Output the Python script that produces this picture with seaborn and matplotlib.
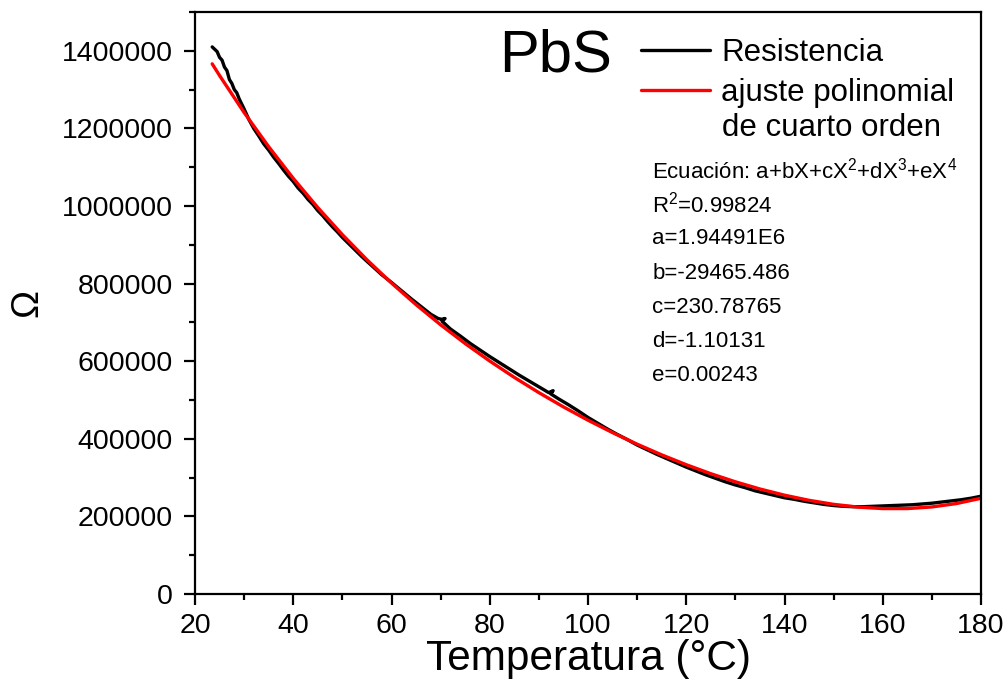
import matplotlib
matplotlib.use("Agg")
import matplotlib.pyplot as plt
import seaborn as sns
import pandas as pd
from matplotlib.ticker import MultipleLocator

# ---- data ----
temp_meas = [23.5, 24.0, 24.5, 25.0, 25.5, 26.0, 26.5, 27.0, 27.5, 28.0, 28.5, 29.0,
             30.0, 31.0, 32.0, 33.0, 34.0, 35.0, 36.0, 37.0, 38.0, 39.0, 40.0, 41.0,
             42.0, 43.0, 44.0, 45.0, 46.0, 47.0, 48.0, 49.0, 50.0, 52.0, 54.0, 56.0,
             58.0, 60.0, 62.0, 64.0, 66.0, 68.0, 69.5, 70.2, 70.9, 70.3, 72.0, 74.0,
             76.0, 78.0, 80.0, 82.0, 84.0, 86.0, 88.0, 90.0, 92.0, 92.9, 92.4, 94.0,
             96.0, 98.0, 100.0, 102.0, 104.0, 106.0, 108.0, 110.0, 112.0, 114.0, 116.0,
             118.0, 120.0, 122.0, 124.0, 126.0, 128.0, 130.0, 132.0, 134.0, 136.0,
             138.0, 140.0, 142.0, 144.0, 146.0, 148.0, 150.0, 152.0, 154.0, 156.0,
             158.0, 160.0, 162.0, 164.0, 166.0, 168.0, 170.0, 172.0, 174.0, 176.0,
             178.0, 180.0]
resistencia = [1410000, 1404000, 1398000, 1383000, 1376000, 1358000, 1349000, 1326000,
               1316000, 1300000, 1292000, 1276000, 1250000, 1222000, 1199000, 1180000,
               1160000, 1144000, 1126000, 1110000, 1093000, 1077000, 1063000, 1046000,
               1033000, 1017000, 1004000, 988000, 975000, 960000, 946000, 933000,
               919000, 894000, 869000, 846000, 823000, 803000, 782000, 761000, 741000,
               721000, 710000, 708000, 710000, 703000, 683000, 665000, 646000, 629000,
               612000, 596000, 580000, 564000, 549000, 534000, 519000, 524000, 516000,
               503000, 488000, 472000, 455000, 440000, 425000, 411000, 398000, 384000,
               372000, 360000, 349000, 338000, 327000, 317000, 307000, 298000, 289000,
               281000, 274000, 266000, 260000, 254000, 248000, 244000, 239000, 235000,
               231000, 228000, 226000, 225000, 225000, 226000, 227000, 228000, 229000,
               230000, 232000, 234000, 237000, 240000, 243000, 247000, 252000]

temp_fit = [23.5, 25, 30, 35, 40, 45, 50, 55, 60, 65, 70, 75, 80, 85, 90, 95, 100,
            105, 110, 115, 120, 125, 130, 135, 140, 145, 150, 155, 160, 165, 170,
            175, 180]
ajuste = [1366371, 1336256, 1240887, 1152761, 1071288, 995916, 926129, 861446,
          801427, 745661, 693781, 645451, 600374, 558291, 518973, 482237, 447928,
          415932, 386170, 358600, 333215, 310047, 289163, 270635, 254689, 241427,
          231076, 223890, 220155, 220195, 224364, 233125, 246720]

x_ticks = [20, 40, 60, 80, 100, 120, 140, 160, 180]
y_ticks = [0, 200000, 400000, 600000, 800000, 1000000, 1200000, 1400000]

fit_text = ["Ecuación: a+bX+cX$^2$+dX$^3$+eX$^4$", "R$^2$=0.99824", "a=1.94491E6",
            "b=-29465.486", "c=230.78765", "d=-1.10131", "e=0.00243"]

# ---- style ----
sns.set_theme(style="ticks")
plt.rcParams["font.family"] = ["Liberation Sans", "DejaVu Sans"]
plt.rcParams["mathtext.default"] = "regular"
plt.rcParams["axes.linewidth"] = 1.6
plt.rcParams["text.color"] = "black"
plt.rcParams["axes.labelcolor"] = "black"
plt.rcParams["xtick.color"] = "black"
plt.rcParams["ytick.color"] = "black"
plt.rcParams["axes.edgecolor"] = "black"

fig = plt.figure(figsize=(10.08, 6.98), dpi=100)
ax = fig.add_axes([195 / 1008, 1 - 594 / 698, 786 / 1008, 582 / 698])

df_meas = pd.DataFrame({"T": temp_meas, "R": resistencia})
df_fit = pd.DataFrame({"T": temp_fit, "R": ajuste})

sns.lineplot(data=df_meas, x="T", y="R", color="black", lw=2.4, sort=False,
             estimator=None, ax=ax, label="Resistencia")
sns.lineplot(data=df_fit, x="T", y="R", color="#ff0000", lw=2.4, sort=False,
             estimator=None, ax=ax, label="ajuste polinomial")

ax.set_xlim(20, 180)
ax.set_ylim(0, 1500000)
ax.set_xticks(x_ticks)
ax.set_yticks(y_ticks)
ax.set_xticklabels([str(v) for v in x_ticks])
ax.set_yticklabels([str(v) for v in y_ticks])
ax.xaxis.set_minor_locator(MultipleLocator(10))
ax.yaxis.set_minor_locator(MultipleLocator(100000))
ax.tick_params(which="major", direction="out", length=8, width=1.6,
               labelsize=20.5, pad=6, colors="black")
ax.tick_params(which="minor", direction="out", length=4, width=1.6)
ax.tick_params(axis="y", which="major", pad=8)
for s in ax.spines.values():
    s.set_visible(True)
    s.set_color("black")

ax.set_xlabel("Temperatura (°C)", fontsize=30.5, labelpad=0)
ax.set_ylabel("Ω", fontsize=27, labelpad=12)

ax.text(0.387, 0.972, "PbS", transform=ax.transAxes, fontsize=43,
        ha="left", va="top")

leg = ax.legend(loc="upper left", bbox_to_anchor=(0.568, 0.955), frameon=False,
                fontsize=22.5, handlelength=2.2, handletextpad=0.35,
                labelspacing=0.31, borderpad=0, borderaxespad=0)
for line in leg.get_lines():
    line.set_linewidth(2.4)
ax.text(0.671, 0.8007, "de cuarto orden", transform=ax.transAxes,
        fontsize=22.5, ha="left", va="center")

for i, t in enumerate(fit_text):
    ax.text(0.582, 0.727 - i * 0.0585, t, transform=ax.transAxes,
            fontsize=16, ha="left", va="center")

fig.savefig("out.png", dpi=100)
